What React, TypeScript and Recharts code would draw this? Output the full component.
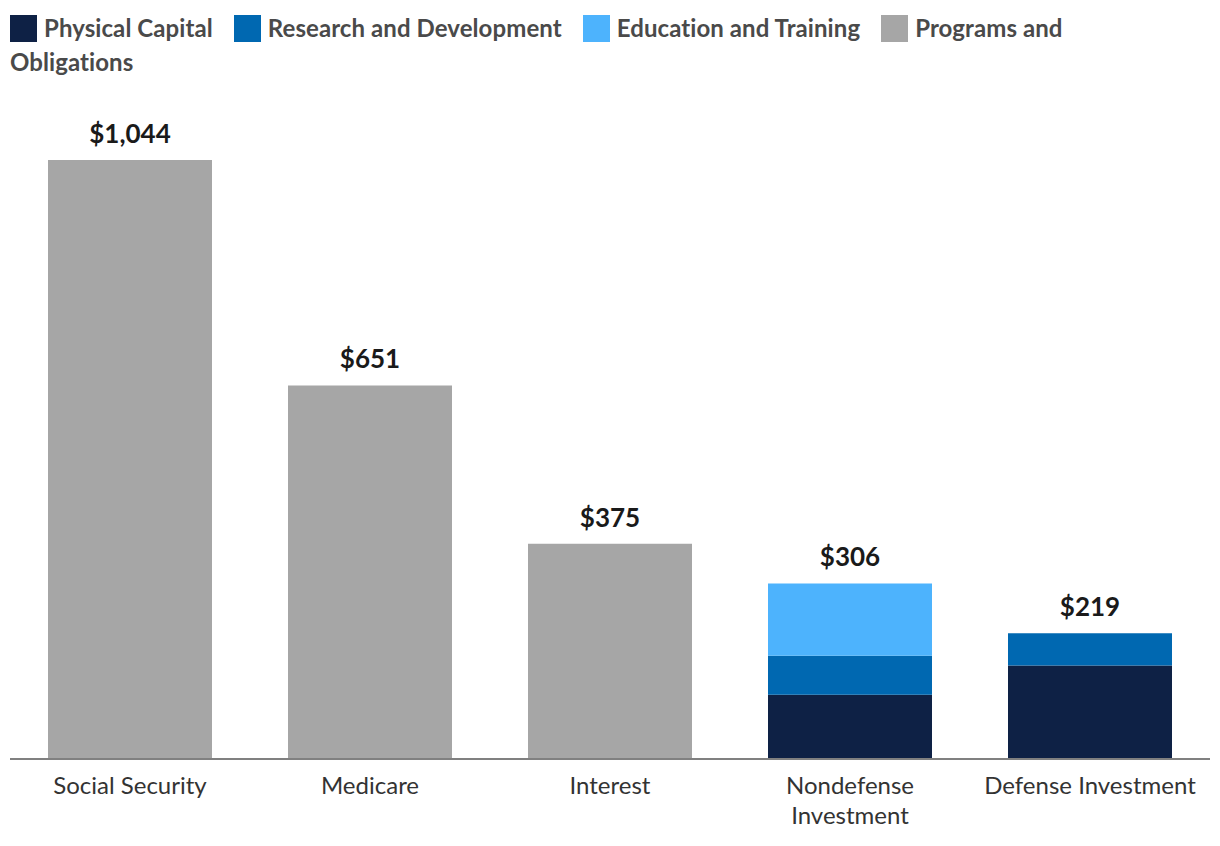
import { BarChart, Bar, XAxis, YAxis, LabelList } from "recharts";

const categories = [
  "Social Security",
  "Medicare",
  "Interest",
  "Nondefense Investment",
  "Defense Investment",
];
// wrapped axis labels, one entry per category
const tickLines = [
  ["Social Security"],
  ["Medicare"],
  ["Interest"],
  ["Nondefense", "Investment"],
  ["Defense Investment"],
];
const physicalCapital = [0, 0, 0, 112, 163];
const researchDevelopment = [0, 0, 0, 68, 56];
const educationTraining = [0, 0, 0, 126, 0];
const programsObligations = [1044, 651, 375, 0, 0];
const totalLabels = ["$1,044", "$651", "$375", "$306", "$219"];

const series = [
  { key: "physical", name: "Physical Capital", color: "#0e2145", values: physicalCapital },
  { key: "rnd", name: "Research and Development", color: "#0068b1", values: researchDevelopment },
  { key: "edu", name: "Education and Training", color: "#4db3fd", values: educationTraining },
  { key: "programs", name: "Programs and Obligations", color: "#a6a6a6", values: programsObligations },
];

// build rows; the total label goes on the top non-zero segment only
const data = categories.map((cat, i) => {
  const row: Record<string, any> = { name: cat, idx: i };
  let topKey = "";
  series.forEach((s) => {
    row[s.key] = s.values[i];
    if (s.values[i] > 0) topKey = s.key;
  });
  series.forEach((s) => {
    row[s.key + "Label"] = s.key === topKey ? totalLabels[i] : null;
  });
  return row;
});

const FONT = "Lato, 'Open Sans', sans-serif";

function TotalLabel(props: any) {
  const { x, y, width, value } = props;
  if (value == null) return null;
  return (
    <text
      x={x + width / 2}
      y={y - 17}
      textAnchor="middle"
      fontFamily={FONT}
      fontWeight={700}
      fontSize={26}
      fill="#1a1a1a"
    >
      {value}
    </text>
  );
}

function CategoryTick(props: any) {
  const { x, y, payload } = props;
  const lines = tickLines[payload.index] || [payload.value];
  return (
    <text
      x={x}
      y={y}
      textAnchor="middle"
      fontFamily={FONT}
      fontSize={24}
      fill="#333333"
    >
      {lines.map((line, i) => (
        <tspan key={i} x={x} dy={i === 0 ? 27 : 30}>
          {line}
        </tspan>
      ))}
    </text>
  );
}

function Legend() {
  return (
    <div
      style={{
        position: "absolute",
        left: 10,
        top: 11,
        width: 1120,
        fontFamily: FONT,
        fontWeight: 700,
        fontSize: 24,
        lineHeight: "34px",
        color: "#4a4a4a",
        fontVariantLigatures: "none",
        letterSpacing: 0.08,
      }}
    >
      {series.map((s) => {
        const words = s.name.split(" ");
        return (
          <span key={s.key}>
            <span
              style={{
                display: "inline-block",
                width: 27,
                height: 27,
                background: s.color,
                verticalAlign: "-5px",
                marginRight: 7,
              }}
            />
            {/* words as separate spans so a wrapped item doesn't get one huge box */}
            {words.map((w, j) => (
              <span key={j}>
                <span style={j === words.length - 1 ? { marginRight: 21 } : undefined}>{w}</span>
                {j < words.length - 1 ? " " : ""}
              </span>
            ))}
          </span>
        );
      })}
    </div>
  );
}

export default function App() {
  return (
    <div style={{ position: "relative", width: 1220, height: 846, margin: -8, background: "#fff" }}>
      <Legend />
      <BarChart
        width={1220}
        height={846}
        data={data}
        margin={{ top: 160, right: 10, left: 10, bottom: 27 }}
        barCategoryGap={38}
      >
        <XAxis
          dataKey="name"
          axisLine={{ stroke: "#808080", strokeWidth: 2 }}
          tickLine={false}
          height={60}
          interval={0}
          tick={<CategoryTick />}
        />
        <YAxis hide domain={[0, "dataMax"]} />
        {series.map((s) => (
          <Bar
            key={s.key}
            dataKey={s.key}
            name={s.name}
            stackId="a"
            fill={s.color}
            isAnimationActive={false}
          >
            <LabelList dataKey={s.key + "Label"} content={<TotalLabel />} />
          </Bar>
        ))}
      </BarChart>
    </div>
  );
}
